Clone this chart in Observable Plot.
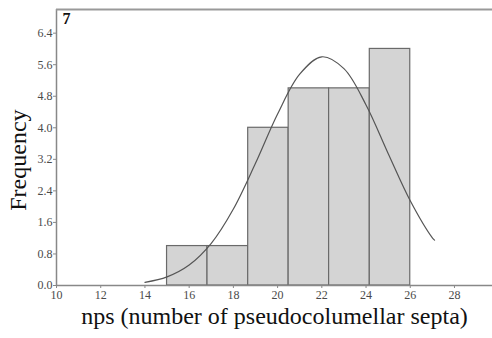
<!DOCTYPE html>
<html>
<head>
<meta charset="utf-8">
<script src="https://cdn.jsdelivr.net/npm/d3@7"></script>
<script src="https://cdn.jsdelivr.net/npm/@observablehq/plot@0.6"></script>
<style>
  html, body { margin: 0; padding: 0; background: #fff; }
  svg text { font-family: "Liberation Serif", "Times New Roman", serif; }
</style>
</head>
<body>
<div id="chart"></div>
<script>
const binStarts = [15, 16.83, 18.67, 20.5, 22.33, 24.17];
const binEnds   = [16.83, 18.67, 20.5, 22.33, 24.17, 26];
const counts    = [1, 1, 4, 5, 5, 6];

// fitted normal curve
const curveX = [14, 15, 16, 17, 18, 19, 20, 21, 22, 23, 24, 25, 26, 27, 27.1];
const curveY = [0.08, 0.22, 0.52, 1.07, 1.94, 3.10, 4.35, 5.36, 5.80, 5.50, 4.58, 3.35, 2.15, 1.21, 1.15];

const xTicks = [10, 12, 14, 16, 18, 20, 22, 24, 26, 28];
const yTicks = [0, 0.8, 1.6, 2.4, 3.2, 4.0, 4.8, 5.6, 6.4];

const yTitle = "Frequency";
const xTitle = "nps (number of pseudocolumellar septa)";
const panelLabel = "7";

const bins = binStarts.map((s, i) => ({x1: s, x2: binEnds[i], y: counts[i]}));
const curve = curveX.map((x, i) => ({x, y: curveY[i]}));
const serif = "'Liberation Serif', 'Times New Roman', serif";

const chart = Plot.plot({
  width: 492,
  height: 338,
  marginLeft: 56,
  marginRight: 0,
  marginTop: 9,
  marginBottom: 53,
  style: {fontFamily: serif, background: "#fff", overflow: "visible"},
  x: {domain: [10, 29.72]},
  y: {domain: [0, 7]},
  marks: [
    Plot.rectY(bins, {x1: "x1", x2: "x2", y: "y", fill: "#d4d4d4", stroke: "#6a6a6a", strokeWidth: 1.2, inset: 0}),
    Plot.line(curve, {x: "x", y: "y", stroke: "#555", strokeWidth: 1.2, curve: "catmull-rom"}),
    Plot.ruleY([0], {stroke: "#888", strokeWidth: 1.5}),
    Plot.ruleX([10], {stroke: "#888", strokeWidth: 1.5}),
    Plot.ruleY([7], {stroke: "#999", strokeWidth: 2}),
    Plot.axisX({ticks: xTicks, tickSize: 3, tickFormat: d3.format("d"), fontSize: 12, fontFamily: serif, color: "#4a4a4a", stroke: "#888", label: null, tickPadding: 2}),
    Plot.axisY({ticks: yTicks, tickSize: 3, tickFormat: d3.format(".1f"), fontSize: 12, fontFamily: serif, color: "#4a4a4a", stroke: "#888", label: null, tickPadding: 1}),
    Plot.text([yTitle], {x: () => 8.28, y: () => 3.18, rotate: -90, fontSize: 24, fontFamily: serif, fill: "#111"}),
    Plot.text([xTitle], {frameAnchor: "bottom", dy: 38, fontSize: 24, fontFamily: serif, fill: "#111"}),
    Plot.text([panelLabel], {frameAnchor: "top-left", dx: 6, dy: 3, lineAnchor: "top", textAnchor: "start", fontSize: 16, fontWeight: "bold", fontFamily: serif, fill: "#111"})
  ]
});
document.getElementById("chart").appendChild(chart);
</script>
</body>
</html>
